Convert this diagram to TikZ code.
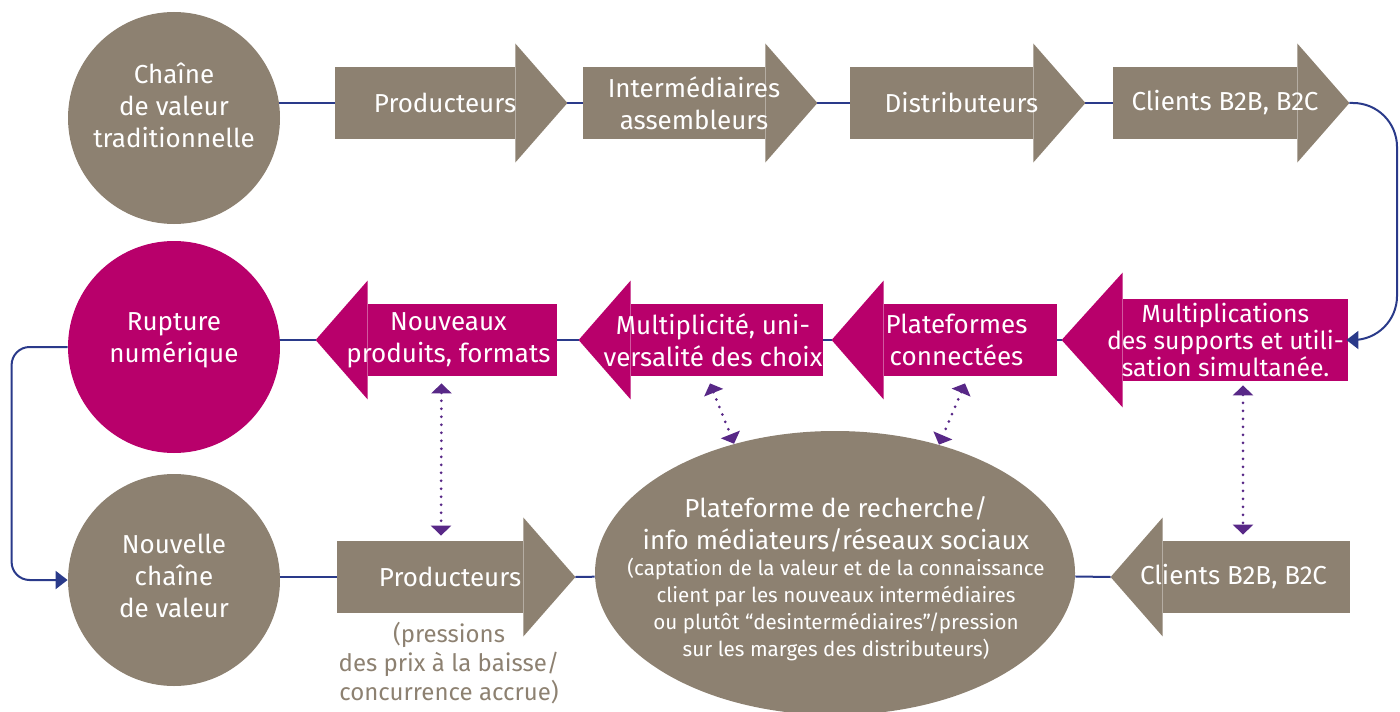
\documentclass[tikz,border=0pt]{standalone}
\usepackage{fontspec}
\setmainfont{Fira Sans}
\usetikzlibrary{shapes.geometric,arrows.meta,backgrounds}

\definecolor{brun}{RGB}{141,129,113}
\definecolor{framboise}{RGB}{184,0,107}
\definecolor{marine}{RGB}{42,58,138}
\definecolor{violet}{RGB}{88,40,135}

\newlength\tetelong \setlength\tetelong{26pt}
\newlength\tetelarg \setlength\tetelarg{11.5pt}
\newlength\decal \setlength\decal{10pt}

% fleche vers la droite : nom, x, y, largeur du corps, texte, couleur
\newcommand{\flecheD}[6]{%
  \node[corps, fill=#6, minimum width=#4] (#1) at (#2,#3) {};
  \fill[#6] ([yshift=\tetelarg]#1.north east) -- ([xshift=\tetelong]#1.east) coordinate (#1-p)
    -- ([yshift=-\tetelarg]#1.south east) -- cycle;
  \node[txt] (#1-t) at ([xshift=\decal]#1.center) {#5};
}
% fleche vers la gauche
\newcommand{\flecheG}[6]{%
  \node[corps, fill=#6, minimum width=#4] (#1) at (#2,#3) {};
  \fill[#6] ([yshift=\tetelarg]#1.north west) -- ([xshift=-\tetelong]#1.west) coordinate (#1-p)
    -- ([yshift=-\tetelarg]#1.south west) -- cycle;
  \node[txt] (#1-t) at ([xshift=-\decal]#1.center) {#5};
}

\tikzset{
  corps/.style={rectangle, minimum height=36pt, inner sep=0pt},
  txt/.style={text=white, align=center, inner sep=0pt, font=\fontsize{13}{16}\selectfont},
  rond/.style={circle, minimum size=106pt, inner sep=0pt},
  lien/.style={marine, line width=1pt},
  pointille/.style={violet, line width=1.5pt, line cap=round, dash pattern=on 0pt off 4pt,
    {Triangle[width=10pt,length=5pt]}-{Triangle[width=10pt,length=5pt]}},
  legende/.style={text=brun, align=center, inner sep=0pt, font=\fontsize{12}{14.5}\selectfont}
}

\begin{document}
\begin{tikzpicture}[x=0.5pt,y=-0.5pt]
\useasboundingbox (0,0) rectangle (1400,711);

% les trois cercles
\node[rond, fill=brun] (c1) at (174,118) {};
\node[txt] (c1-t) at (174,105) {Chaîne\\de valeur\\traditionnelle};
\node[rond, fill=framboise] (c2) at (174,347) {};
\node[txt] (c2-t) at (174,340) {Rupture\\numérique};
\node[rond, fill=brun] (c3) at (174,580) {};
\node[txt] (c3-t) at (174,576) {Nouvelle\\chaîne\\de valeur};

% chaine traditionnelle
\flecheD{p1}{425}{103}{90pt}{Producteurs}{brun}
\flecheD{p2}{674}{103}{91pt}{Intermédiaires\\assembleurs}{brun}
\flecheD{p3}{941.5}{103}{91.5pt}{Distributeurs}{brun}
\flecheD{p4}{1205}{103}{92pt}{Clients B2B, B2C}{brun}

% rupture
\begin{scope}
\setlength\decal{7pt}
\flecheG{n}{462.5}{340}{94.5pt}{Nouveaux\\produits, formats}{framboise}
\flecheG{m}{727}{340}{96pt}{Multiplicité, uni-\\versalité des choix}{framboise}
\flecheG{pl}{970.5}{340}{86.5pt}{Plateformes\\connectées}{framboise}
\end{scope}
\begin{scope}[corps/.append style={minimum height=41pt},
  txt/.append style={font=\fontsize{12.4}{13.5}\selectfont}]
\setlength\decal{5pt}\setlength\tetelong{30.5pt}\setlength\tetelarg{13pt}
\flecheG{mu}{1235.5}{340}{112.5pt}{Multiplications\\des supports et utili-\\sation simultanée.}{framboise}
\end{scope}

% nouvelle chaine
\flecheD{bp}{430}{577}{93pt}{Producteurs}{brun}
\node[legende] (bp-l) at (449,663) {(pressions\\des prix à la baisse/\\concurrence accrue)};
\node[ellipse, fill=brun, minimum width=240pt, minimum height=142pt, inner sep=0pt] (pf) at (835,573) {};
\node[txt] (pf-t) at (836,524) {Plateforme de recherche/\\info médiateurs/réseaux sociaux};
\node[txt, font=\fontsize{10.3}{13.5}\selectfont] (pf-s) at (836,609)
  {(captation de la valeur et de la connaissance\\client par les nouveaux intermédiaires\\ou plutôt “desintermédiaires”/pression\\sur les marges des distributeurs)};
\begin{scope}
\setlength\decal{11.5pt}
\flecheG{bc}{1256.5}{577}{93.5pt}{Clients B2B, B2C}{brun}
\end{scope}

% liaisons
\begin{scope}[on background layer]
\draw[lien] (c1 |- p1.west) -- (p1.west);
\foreach \a/\b in {p1/p2,p2/p3,p3/p4}
  \draw[lien] (\a-p) -- (\b.west);
\foreach \a/\b in {mu/pl,pl/m,m/n}
  \draw[lien] (\a-p) -- (\b.east);
\draw[lien] (n-p) -- (c2 |- n-p);
\draw[lien] (c3 |- bp.west) -- (bp.west);
\draw[lien] (bp-p) -- (pf);
\draw[lien] (pf) -- (bc-p);
\end{scope}
\draw[lien, rounded corners=22pt, -{Triangle[width=9pt,length=6pt]}, shorten >=-1pt]
  (p4-p) -- (1397,103) -- (1397,340) -- (mu.east);
\draw[lien, rounded corners=9pt, -{Triangle[width=9pt,length=6pt]}]
  (c2.west) -- ++(-28pt,0) |- (c3.west);

% echanges
\draw[pointille] ([xshift=-10.5pt,yshift=-3.5pt]n.south) -- ([xshift=5.5pt,yshift=2.5pt]bp.north);
\draw[pointille] ([xshift=-8.5pt,yshift=-3.5pt]m.south) -- (pf.128);
\draw[pointille] ([xshift=-2.75pt,yshift=-3.5pt]pl.south) -- (pf.51);
\draw[pointille] ([xshift=3.75pt,yshift=-2pt]mu.south) -- ([xshift=-6.75pt,yshift=3pt]bc.north);
\end{tikzpicture}
\end{document}
